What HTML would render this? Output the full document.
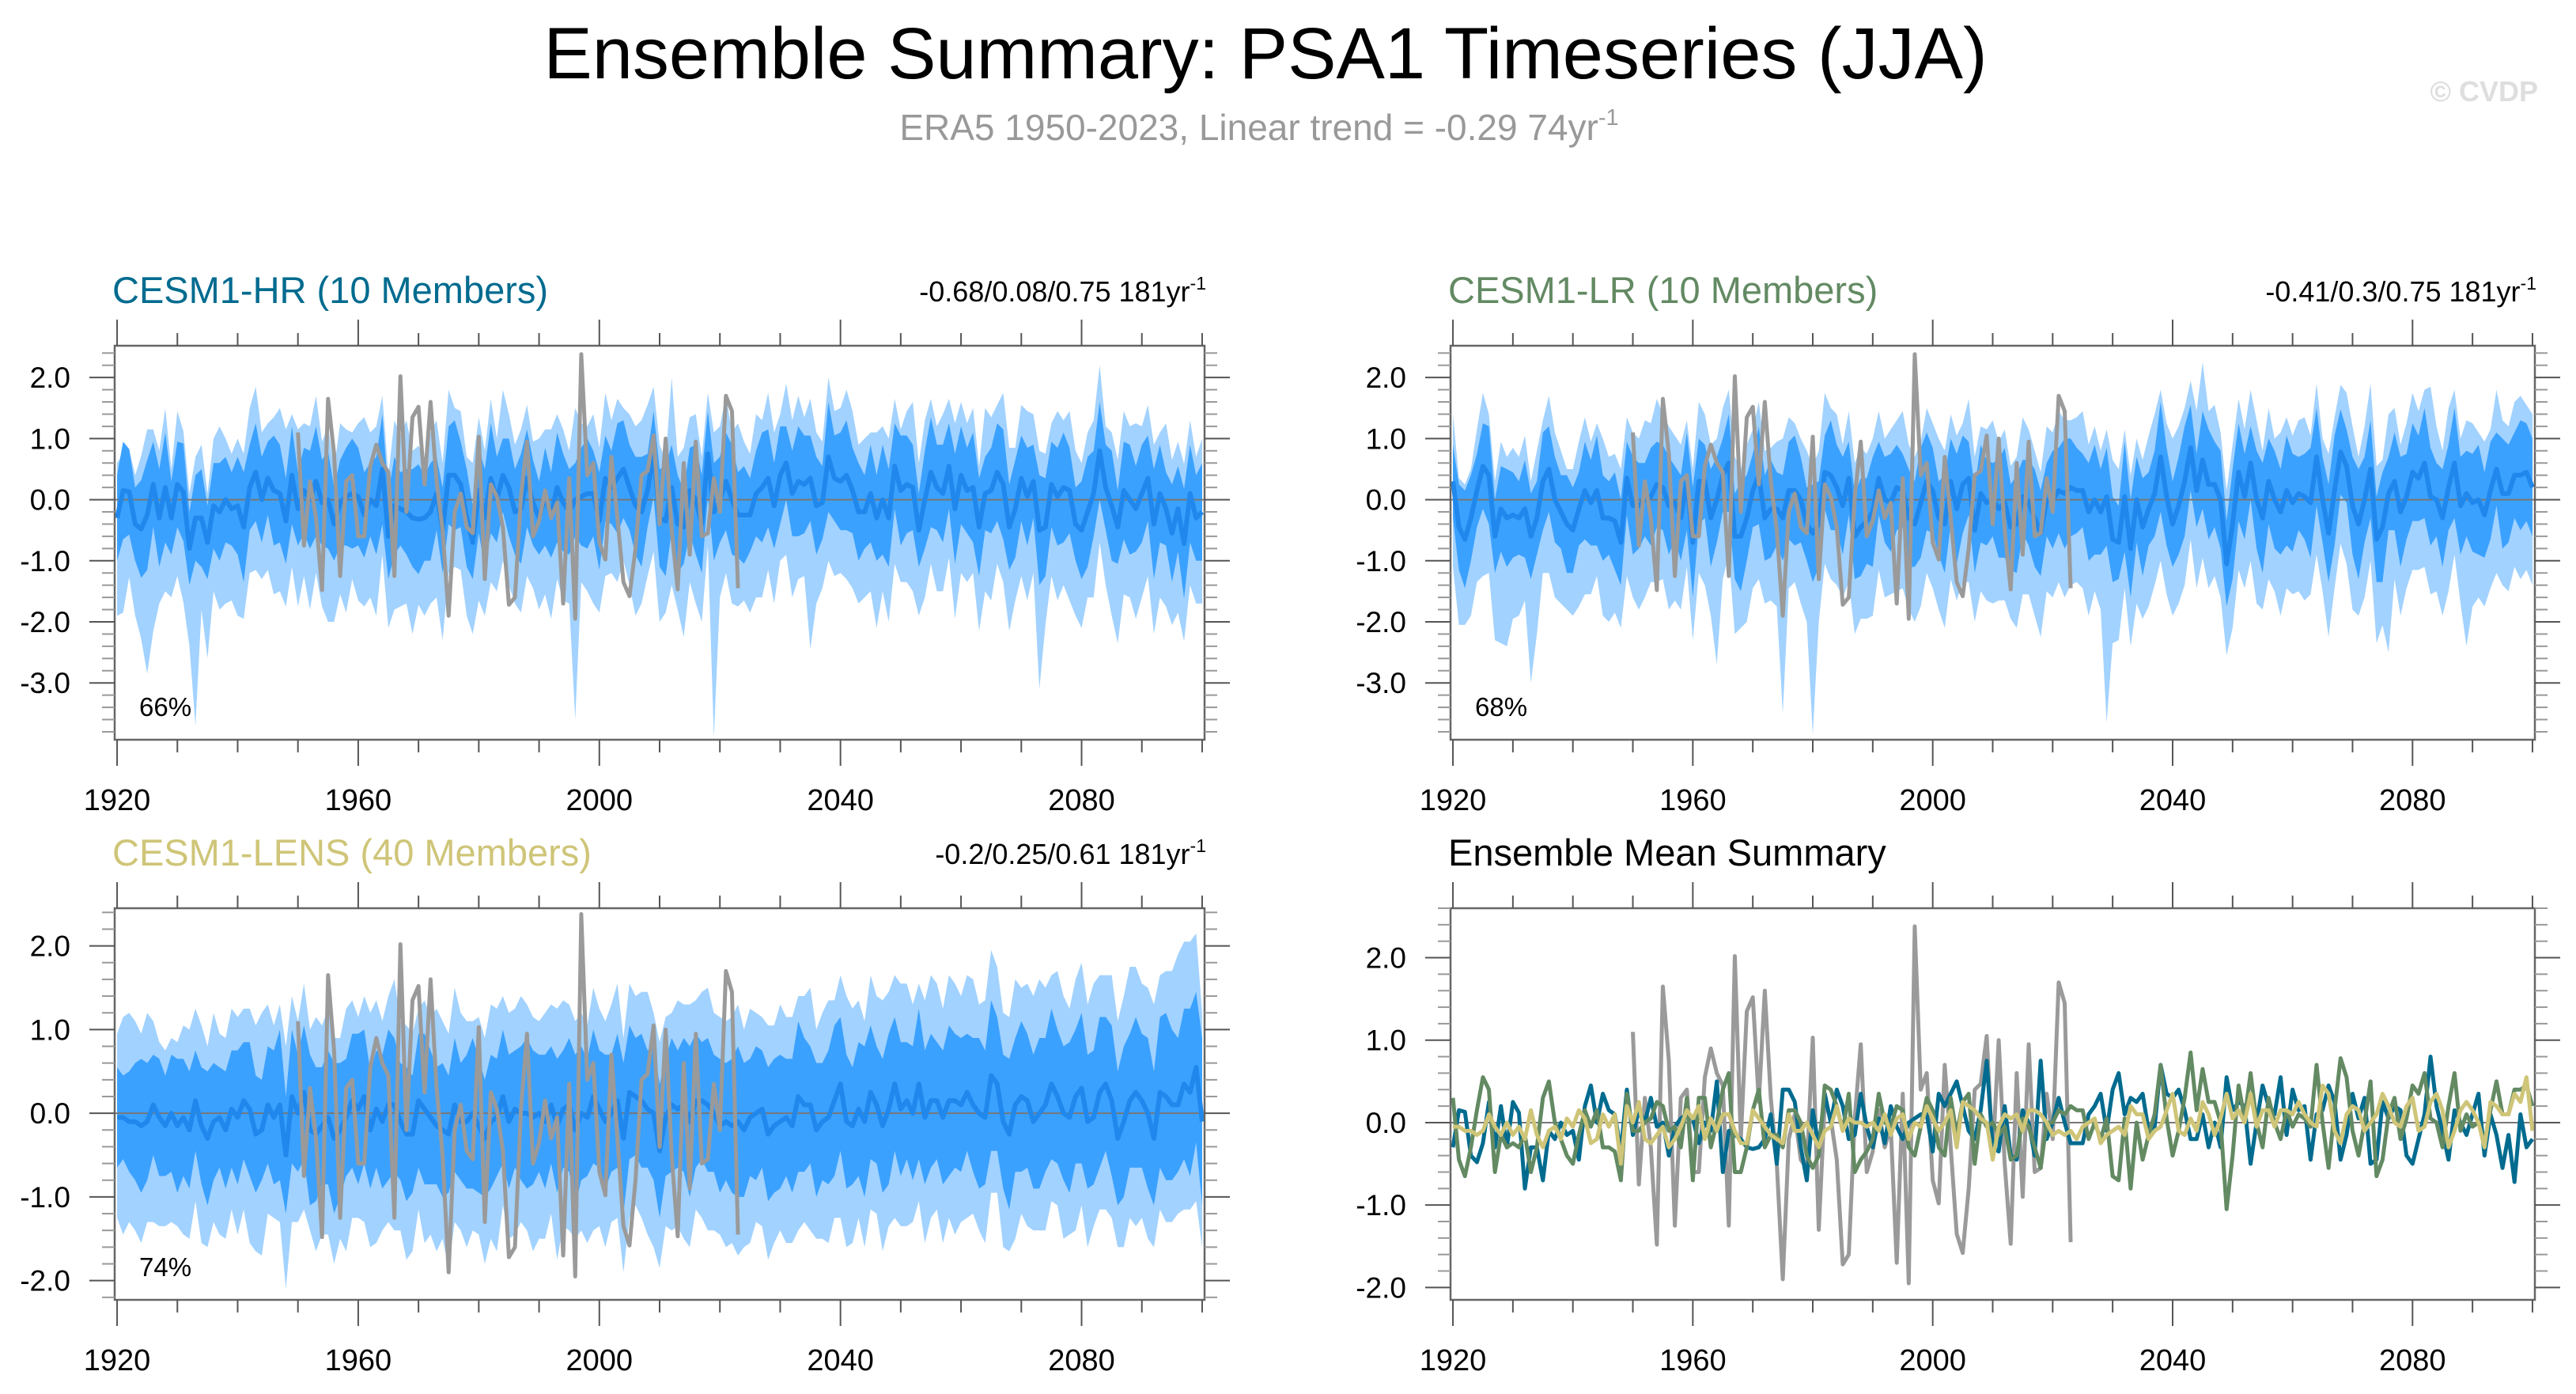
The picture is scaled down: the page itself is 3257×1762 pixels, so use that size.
<!DOCTYPE html>
<html><head><meta charset="utf-8"><style>
html,body{margin:0;padding:0;background:#fff}
svg{display:block}
text{font-family:"Liberation Sans",sans-serif}
</style></head><body>
<svg id="fig" width="3257" height="1762" viewBox="0 0 3257 1762" xmlns="http://www.w3.org/2000/svg">
<text x="1600" y="99" font-size="92" text-anchor="middle" fill="#000">Ensemble Summary: PSA1 Timeseries (JJA)</text>
<text x="1592" y="177" font-size="46" text-anchor="middle" fill="#999">ERA5 1950-2023, Linear trend = -0.29 74yr<tspan font-size="29" dy="-19">-1</tspan></text>
<text x="3209" y="128" font-size="36" font-weight="bold" text-anchor="end" fill="#dedede">© CVDP</text>
<g id="panels"></g>
</svg>
<script>
const years = [];
for (let y = 1920; y <= 2100; y++) years.push(y);
const era5Years = [];
for (let y = 1950; y <= 2023; y++) era5Years.push(y);

const era5 = [1.1,-0.75,0.3,-0.3,-1.48,1.65,0.75,-1.25,0.3,0.4,
-0.6,-0.6,0.55,0.9,0.6,0.45,-1.25,2.02,-0.2,1.35,
1.52,0.25,1.6,0.3,-0.5,-1.9,-0.2,0.1,-0.45,-0.55,
1.03,-1.3,0.25,0.05,-0.45,-1.72,-1.6,0.05,0.95,-0.6,
-0.35,0.15,-0.3,-0.05,-1.7,0.35,-1.95,2.38,0.4,0.6,
-0.7,-0.98,0.7,-0.3,-1.35,-1.58,-0.8,0.4,0.47,1.05,
-0.4,1.0,-0.5,-1.47,0.6,-0.9,0.95,-0.6,-0.55,0.35,
-0.2,1.7,1.45,-1.45];

const hrMean = [-0.3,0.15,0.13,-0.4,-0.48,-0.25,0.25,-0.3,0.2,-0.3,
0.25,0.12,-0.8,-0.3,-0.3,-0.7,-0.1,-0.2,0.0,-0.15,
-0.1,-0.45,0.2,0.45,0.0,0.35,0.15,0.1,-0.35,0.4,
-0.15,0.15,0.0,0.3,-0.05,0.0,-0.4,-0.05,0.05,0.1,
0.05,-0.25,0.0,-0.1,0.5,-0.6,-0.1,-0.15,-0.2,-0.3,
-0.32,-0.3,-0.2,0.1,-0.5,0.4,0.4,0.25,-0.3,-0.7,
0.15,-0.3,0.35,0.0,0.4,0.2,-0.2,-0.15,0.35,-0.05,
-0.3,0.05,-0.25,0.2,-0.05,-0.2,0.0,0.05,0.1,0.1,
-0.35,0.35,0.2,0.35,0.5,0.2,-0.1,-0.2,0.15,0.75,
-0.3,-0.35,0.2,-0.4,-0.45,0.15,0.0,-0.4,0.75,-0.2,
0.0,0.3,0.0,-0.25,-0.25,-0.25,0.1,0.2,0.35,-0.1,
0.4,0.6,0.1,0.3,0.25,0.35,-0.1,-0.05,0.7,0.35,
0.3,0.4,0.15,-0.2,-0.2,0.1,-0.3,0.0,-0.3,0.55,
0.15,0.25,0.2,-0.5,0.0,0.45,0.2,0.1,0.55,-0.15,
0.4,0.15,0.2,-0.45,0.1,0.15,0.45,0.25,-0.45,-0.15,
0.35,0.05,0.3,-0.5,-0.45,0.25,0.05,0.2,0.15,-0.4,
-0.5,-0.2,0.1,0.8,0.2,-0.1,-0.45,0.15,0.0,-0.15,
0.1,0.35,-0.4,0.1,-0.15,-0.55,-0.15,-0.72,0.1,-0.3,
-0.2];
// spreads in tenths of a unit
const hrInner = [7,8,7,6,8,9,7,8,9,6,7,8,6,7,8,6,7,8,7,6,8,9,7,8,7,6,9,8,7,8,6,7,8,9,7,8,6,7,8,9,8,7,6,8,9,7,8,6,7,8,9,7,8,6,7,8,9,7,8,6,7,8,9,7,6,8,7,9,8,7,6,8,7,9,8,7,6,8,9,7,8,7,6,9,8,7,8,9,6,7,8,9,7,8,6,7,9,8,7,8,7,8,9,7,8,6,7,9,8,7,8,6,7,9,8,7,8,6,9,7,8,9,7,8,6,8,7,9,8,7,9,8,7,6,8,9,7,8,7,9,8,7,9,8,6,7,8,9,7,8,7,8,6,9,8,7,8,9,7,6,8,9,7,8,7,9,6,8,9,7,8,7,9,8,6,8,7,9,8,7,8];
const hrUp = [9,6,7,8,12,14,9,11,13,8,12,10,9,10,12,8,11,14,10,9,11,12,13,14,11,9,12,14,15,10,13,11,12,14,10,12,9,13,11,10,12,16,11,13,12,10,14,12,15,11,12,10,13,12,11,14,11,12,10,13,12,11,13,10,14,12,11,13,12,10,13,11,14,12,12,10,15,12,11,13,12,14,11,13,10,12,13,15,14,11,12,10,18,11,13,12,14,11,10,13,12,14,11,15,12,10,13,11,14,12,10,13,12,14,11,13,12,10,13,11,12,14,13,11,12,10,14,12,13,11,10,12,14,11,13,12,10,13,11,14,12,11,13,10,14,12,11,15,13,10,12,14,11,13,12,10,14,11,13,12,11,13,12,14,10,12,11,13,12,14,11,12,13,10,14,12,11,13,12,10,12];
const hrDn = [16,20,14,15,18,26,24,14,17,13,15,18,16,34,15,19,14,16,17,15,18,15,14,16,13,15,17,16,14,15,16,14,18,15,17,20,16,15,19,14,17,15,16,18,14,15,17,16,15,19,14,16,15,17,18,16,15,14,16,15,18,16,17,15,14,16,15,17,16,14,15,16,17,15,16,15,36,14,16,18,15,16,14,17,15,16,18,15,14,16,17,15,16,14,18,15,17,16,15,37,16,15,17,15,14,16,17,18,15,16,14,15,17,16,15,28,16,14,17,16,15,17,16,15,14,16,18,15,17,16,15,16,17,14,16,15,17,16,15,18,16,15,14,17,16,18,15,16,17,15,16,17,15,26,16,15,17,16,18,15,16,14,17,15,16,18,19,17,16,18,17,16,18,17,16,15,17,16,15,14,15];

const lrMean = [0.3,-0.45,-0.65,-0.3,0.15,0.55,0.4,-0.6,-0.15,-0.3,
-0.25,-0.3,-0.15,-0.6,-0.3,0.3,0.5,0.0,-0.2,-0.4,
-0.5,-0.15,0.15,-0.05,0.15,-0.3,-0.3,-0.35,-0.7,0.35,
-0.1,-0.1,0.0,0.05,0.25,0.2,-0.1,-0.05,-0.3,0.3,
-0.7,0.3,0.3,-0.3,0.0,0.4,0.6,-0.6,-0.6,-0.3,
0.15,0.4,-0.3,-0.15,-0.15,-0.3,0.15,0.15,0.0,-0.4,
-0.55,-0.4,0.45,0.4,0.2,-0.1,0.35,-0.6,-0.45,-0.35,
-0.2,0.35,0.0,-0.05,0.2,0.15,-0.3,-0.4,-0.05,0.3,
0.15,-0.3,-0.4,0.3,-0.15,0.25,0.35,-0.5,0.1,-0.05,
0.0,-0.15,-0.05,-0.45,-0.4,0.05,-0.05,-0.3,-0.55,0.0,
0.0,0.15,0.1,0.2,0.15,0.15,-0.2,0.0,-0.2,0.05,
-0.65,-0.7,0.05,-0.8,0.0,-0.45,-0.15,0.1,0.7,0.05,
-0.4,-0.1,0.3,0.85,0.15,0.65,0.25,0.25,0.0,-1.05,
-0.4,0.45,0.05,0.6,0.0,-0.3,0.3,0.0,-0.2,0.15,
-0.05,0.1,0.05,-0.05,0.7,0.0,-0.55,0.15,0.78,0.55,
-0.1,-0.4,0.0,0.5,-0.65,-0.45,0.1,0.3,-0.2,0.05,
0.45,0.35,0.6,0.05,0.0,-0.3,0.2,0.6,-0.1,0.1,
-0.05,0.0,-0.25,0.15,0.5,0.1,0.1,0.4,0.4,0.45,
0.2];
const lrInner = [6,7,8,7,6,7,8,6,7,8,7,6,8,7,6,8,7,7,6,8,7,6,8,7,9,7,6,8,7,6,8,7,6,8,7,7,8,6,7,8,9,7,6,8,7,6,8,7,9,7,6,8,7,8,6,7,8,9,7,6,8,7,6,9,7,8,6,7,8,7,9,6,7,8,7,6,8,7,9,8,7,6,8,7,9,8,6,7,8,7,6,8,9,7,8,6,7,8,7,6,8,7,9,8,7,6,8,9,7,8,7,6,9,8,7,8,6,7,9,8,7,8,9,7,6,8,9,7,8,7,9,8,7,6,8,9,7,8,7,9,8,6,7,9,8,7,8,9,7,6,8,9,7,8,7,9,6,8,9,7,8,7,9,8,6,8,7,9,8,7,8,9,7,8,6,9,8,7,9,8,8];
const lrUp = [11,8,9,8,10,12,10,9,11,10,11,10,12,9,11,10,12,11,10,9,10,11,12,10,11,13,10,11,12,10,12,11,13,12,14,12,13,11,12,10,12,13,11,12,10,11,12,13,11,12,10,12,11,10,11,13,12,11,10,12,11,12,13,11,12,10,11,12,13,11,12,11,10,12,11,13,12,11,10,12,11,13,12,11,12,10,13,12,11,12,13,11,12,10,11,13,12,11,10,12,11,13,12,11,12,13,11,12,10,11,13,12,11,12,10,11,12,13,11,12,14,13,12,11,13,16,12,13,11,12,13,12,11,12,13,11,12,10,13,12,11,12,13,11,12,10,13,12,11,12,13,11,12,14,12,11,13,12,11,12,13,11,12,18,12,11,13,12,11,12,13,11,12,10,13,12,11,12,13,11,12];
const lrDn = [14,16,14,16,15,18,16,17,22,21,17,16,15,24,19,15,17,16,15,14,14,16,17,15,14,16,17,15,14,16,15,17,16,14,16,15,17,16,15,14,16,15,17,16,27,17,15,16,15,17,16,17,14,15,16,32,16,15,17,16,33,16,15,17,16,15,17,16,15,16,17,15,16,15,17,16,15,16,17,15,16,15,17,16,15,16,17,15,16,16,17,15,16,15,17,16,15,16,17,15,16,15,17,16,15,16,17,15,16,37,17,16,15,16,17,15,16,15,17,16,15,16,17,15,16,16,17,15,16,15,17,16,15,16,17,15,16,15,17,16,15,16,17,15,16,15,17,16,15,16,17,15,16,15,17,16,26,16,17,15,16,15,17,16,15,16,17,15,16,25,17,16,15,16,17,15,16,15,17,16,16];

const lensMean = [-0.05,-0.05,-0.1,-0.1,-0.15,-0.1,0.1,-0.05,-0.15,0.0,
-0.15,-0.05,-0.2,0.15,-0.15,-0.3,-0.1,-0.05,-0.2,0.05,
-0.05,0.15,0.05,-0.25,-0.2,0.1,-0.05,0.1,-0.5,0.2,
0.0,0.25,-0.2,-0.25,-0.15,-0.05,-0.3,-0.2,-0.05,0.15,
0.05,0.2,-0.2,0.05,-0.1,0.1,0.1,-0.1,-0.25,-0.25,
0.15,0.05,-0.05,-0.15,-0.2,-0.25,0.1,-0.1,-0.1,0.0,
-0.15,-0.3,-0.1,-0.05,0.2,-0.1,0.05,0.0,0.0,-0.05,
0.0,-0.1,0.1,-0.15,0.05,0.1,-0.2,0.0,-0.05,0.2,
0.05,-0.1,0.0,0.15,-0.3,0.25,0.2,0.15,0.05,0.0,
-0.45,-0.05,0.1,0.05,0.1,-0.1,0.15,0.15,0.1,0.0,
-0.15,-0.1,-0.15,-0.1,-0.2,-0.05,0.0,0.05,-0.25,-0.15,
-0.1,-0.05,-0.15,0.2,0.1,0.1,-0.2,-0.1,-0.05,0.15,
0.35,-0.1,-0.15,0.05,-0.1,0.25,0.1,-0.15,0.05,0.35,
0.05,0.15,0.0,0.35,-0.05,0.15,0.15,-0.05,0.15,0.15,
0.1,0.25,0.1,0.0,-0.05,0.45,0.35,-0.1,-0.25,0.1,
0.2,0.15,-0.1,0.0,0.1,0.35,0.2,0.0,-0.05,0.2,
0.3,-0.1,-0.05,0.25,0.35,0.15,-0.3,-0.1,0.15,0.25,
0.15,0.0,-0.3,0.25,0.2,0.1,0.1,0.35,0.25,0.55,
-0.1];
const lensInner = [6,5,6,7,8,7,6,7,6,7,8,7,7,6,7,8,7,6,7,7,8,7,8,7,6,7,8,9,7,8,7,8,9,8,7,8,9,8,7,8,9,8,7,7,8,9,8,7,8,7,8,9,8,7,8,7,8,7,8,9,8,7,8,7,8,8,7,8,9,8,7,8,7,8,7,8,9,8,7,8,7,8,7,8,9,8,7,8,7,8,8,7,8,7,8,9,8,7,8,7,8,7,8,9,8,7,8,7,8,8,8,7,8,9,8,7,8,7,8,9,8,8,7,8,9,8,7,8,9,8,8,7,8,9,8,8,7,8,9,8,8,7,8,9,8,9,8,8,9,8,9,8,8,9,8,9,8,8,9,8,9,8,8,9,8,9,8,9,8,9,8,9,8,9,10,9,8,9,10,9,10];
const lensUp = [10,12,13,12,11,13,10,9,9,9,10,11,12,11,12,11,13,10,11,12,12,11,12,13,14,12,11,12,13,12,11,13,12,14,12,13,12,11,13,12,11,12,14,13,12,13,15,12,13,12,11,13,12,14,13,12,14,13,12,11,13,12,14,13,12,13,12,14,13,12,11,13,12,14,13,12,13,12,11,13,12,12,13,14,12,13,12,13,14,12,13,12,11,13,12,14,12,13,14,12,13,12,13,14,12,13,12,11,13,12,14,12,13,12,13,14,12,13,14,12,13,15,14,13,12,14,13,15,14,13,15,14,13,12,14,15,14,13,15,14,13,14,15,13,14,15,14,13,14,15,13,14,15,16,14,13,15,14,13,14,15,14,16,14,13,15,14,15,16,15,14,15,16,14,15,16,18,17,18,16,13];
const lensDn = [12,14,12,13,14,12,14,13,12,13,12,14,13,12,14,13,12,14,13,12,14,13,16,14,15,13,12,14,16,15,13,14,12,14,13,14,15,13,16,14,13,15,14,16,13,14,15,13,15,14,13,16,14,15,13,16,14,13,15,14,13,15,14,16,13,14,15,13,14,16,15,14,13,16,14,15,13,14,15,16,14,15,13,14,16,15,13,14,15,16,14,13,15,14,16,15,13,14,15,14,13,15,14,16,14,15,13,14,15,14,13,15,14,16,14,15,13,14,15,14,16,15,14,13,15,14,13,15,14,16,14,15,13,14,15,14,13,15,14,16,14,15,13,14,15,14,13,15,14,16,14,15,13,14,15,14,13,15,14,16,14,15,13,14,15,14,13,15,14,16,14,15,13,14,15,14,13,15,14,16,15];

const yTicksA = [-3,-2,-1,0,1,2];
const yTicksB = [-2,-1,0,1,2];
const xMajor = [1920,1960,2000,2040,2080];

const NS = "http://www.w3.org/2000/svg";
const root = document.getElementById('panels');
function mk(tag, attrs, parent) {
  const e = document.createElementNS(NS, tag);
  for (const k in attrs) e.setAttribute(k, attrs[k]);
  (parent || root).appendChild(e);
  return e;
}
function fmt(v){ return v.toFixed(1); }

function makePanel(p) {
  const g = mk('g', {});
  
  
  const xs = yr => p.x0 + (yr - 1919.6) / 180.8 * (p.x1 - p.x0);
  const ys = v => p.y1 - (v - p.ymin) / (p.ymax - p.ymin) * (p.y1 - p.y0);
  if (p.mean && p.up) {
    let upOuter = [], dnOuter = [], upIn = [], dnIn = [];
    years.forEach((yr, i) => {
      upOuter.push(xs(yr) + ',' + ys(p.mean[i] + p.up[i] / 10));
      dnOuter.unshift(xs(yr) + ',' + ys(p.mean[i] - p.dn[i] / 10));
      upIn.push(xs(yr) + ',' + ys(p.mean[i] + p.inner[i] / 10));
      dnIn.unshift(xs(yr) + ',' + ys(p.mean[i] - p.inner[i] / 10));
    });
    const o = mk('polygon', {points: upOuter.concat(dnOuter).join(' '), fill: '#a2d2ff'}, g);
    
    
    const inn = mk('polygon', {points: upIn.concat(dnIn).join(' '), fill: '#3ba1ff'}, g);
    
    
  }
  const z = mk('line', {x1: p.x0, x2: p.x1, y1: ys(0), y2: ys(0), stroke: '#777', 'stroke-width': 2}, g);
  
  
  p.lines.forEach(L => {
    const pts = L.data.map((v, i) => xs(L.years[i]) + ',' + ys(v)).join(' ');
    const pl = mk('polyline', {points: pts, fill: 'none', stroke: L.color, 'stroke-width': L.w, 'stroke-linejoin': 'round'}, g);
    
    
  });
  const b = mk('rect', {x: p.x0, y: p.y0, width: p.x1 - p.x0, height: p.y1 - p.y0, fill: 'none', stroke: '#666', 'stroke-width': 2.5}, g);
  
  
  for (let yr = 1920; yr <= 2100; yr += 10) {
    const major = xMajor.indexOf(yr) >= 0;
    const len = major ? 33 : 16;
    const X = xs(yr);
    mk('line', {x1: X, x2: X, y1: p.y0, y2: p.y0 - len, stroke: '#555', 'stroke-width': 2}, g);
    mk('line', {x1: X, x2: X, y1: p.y1, y2: p.y1 + len, stroke: '#555', 'stroke-width': 2}, g);
  }
  xMajor.forEach(yr => {
    const t = mk('text', {x: xs(yr), y: p.y1 + 89, 'font-size': 38, 'text-anchor': 'middle', fill: '#000'}, g);
    t.textContent = yr;
    
    
  });
  for (let k = Math.ceil(p.ymin * 5); k <= Math.floor(p.ymax * 5); k++) {
    const v = k / 5;
    const major = Math.abs(v - Math.round(v)) < 1e-6;
    const len = major ? 32 : 16;
    const Y = ys(v);
    mk('line', {x1: p.x0, x2: p.x0 - len, y1: Y, y2: Y, stroke: major ? '#555' : '#999', 'stroke-width': 2}, g);
    mk('line', {x1: p.x1, x2: p.x1 + len, y1: Y, y2: Y, stroke: major ? '#555' : '#999', 'stroke-width': 2}, g);
  }
  p.yticks.forEach(v => {
    const t = mk('text', {x: p.x0 - 56, y: ys(v) + 13, 'font-size': 37, 'text-anchor': 'end', fill: '#000'}, g);
    t.textContent = fmt(v);
    
    
  });
  const tt = mk('text', {x: p.x0 - 3, y: p.y0 - 54, 'font-size': 47, fill: p.titleColor}, g);
  tt.textContent = p.title;
  
  
  if (p.stats) {
    const st = mk('text', {x: p.x1 + 2, y: p.y0 - 56, 'font-size': 36, 'text-anchor': 'end', fill: '#000'}, g);
    st.textContent = p.stats + ' 181yr';
    const sp = mk('tspan', {'font-size': 23, dy: -15}, st);
    sp.textContent = '-1';
    
    
  }
  if (p.pct) {
    const pt = mk('text', {x: p.x0 + 31, y: p.y1 - 30, 'font-size': 33, fill: '#000'}, g);
    pt.textContent = p.pct;
    
    
  }
}

const meanCol = '#2088ec', obsCol = '#9a9a9a';
makePanel({name: 'panel-cesm1-hr', x0: 145, x1: 1523, y0: 437, y1: 935, ymin: -3.93, ymax: 2.52, yticks: yTicksA,
  mean: hrMean, inner: hrInner, up: hrUp, dn: hrDn, title: 'CESM1-HR (10 Members)', titleColor: '#006b8f',
  stats: '-0.68/0.08/0.75', pct: '66%',
  lines: [{name: 'ensemble-mean-line', data: hrMean, years: years, color: meanCol, w: 6},
          {name: 'era5-line', data: era5, years: era5Years, color: obsCol, w: 5}]});
makePanel({name: 'panel-cesm1-lr', x0: 1834, x1: 3205, y0: 437, y1: 935, ymin: -3.93, ymax: 2.52, yticks: yTicksA,
  mean: lrMean, inner: lrInner, up: lrUp, dn: lrDn, title: 'CESM1-LR (10 Members)', titleColor: '#638a63',
  stats: '-0.41/0.3/0.75', pct: '68%',
  lines: [{name: 'ensemble-mean-line', data: lrMean, years: years, color: meanCol, w: 6},
          {name: 'era5-line', data: era5, years: era5Years, color: obsCol, w: 5}]});
makePanel({name: 'panel-cesm1-lens', x0: 145, x1: 1523, y0: 1148, y1: 1643, ymin: -2.23, ymax: 2.45, yticks: yTicksB,
  mean: lensMean, inner: lensInner, up: lensUp, dn: lensDn, title: 'CESM1-LENS (40 Members)', titleColor: '#cfc578',
  stats: '-0.2/0.25/0.61', pct: '74%',
  lines: [{name: 'ensemble-mean-line', data: lensMean, years: years, color: meanCol, w: 6},
          {name: 'era5-line', data: era5, years: era5Years, color: obsCol, w: 5}]});
makePanel({name: 'panel-ensemble-mean-summary', x0: 1834, x1: 3205, y0: 1148, y1: 1643, ymin: -2.15, ymax: 2.6, yticks: yTicksB,
  title: 'Ensemble Mean Summary', titleColor: '#000',
  lines: [{name: 'era5-line', data: era5, years: era5Years, color: obsCol, w: 5},
          {name: 'cesm1-hr-mean-line', data: hrMean, years: years, color: '#006b8f', w: 5},
          {name: 'cesm1-lr-mean-line', data: lrMean, years: years, color: '#638a63', w: 5},
          {name: 'cesm1-lens-mean-line', data: lensMean, years: years, color: '#cfc578', w: 5}]});
</script>
</body></html>
